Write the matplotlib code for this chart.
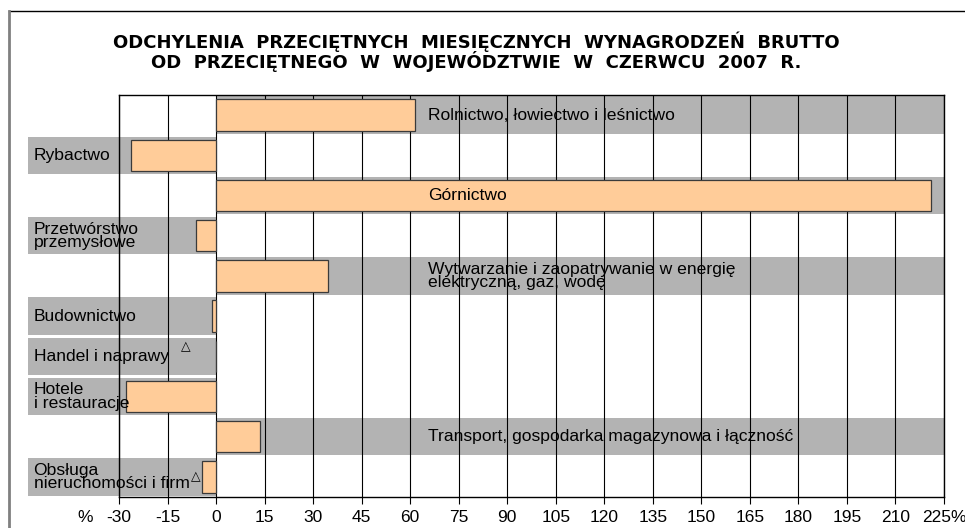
import numpy as np
import matplotlib
matplotlib.use('Agg')
import matplotlib.pyplot as plt
from matplotlib.lines import Line2D

plt.rcParams['font.family'] = ['Liberation Sans', 'DejaVu Sans']

# data (percent deviation from province average)
sectors = ['Rolnictwo, łowiectwo i leśnictwo', 'Rybactwo', 'Górnictwo',
           'Przetwórstwo\nprzemysłowe',
           'Wytwarzanie i zaopatrywanie w energię\nelektryczną, gaz, wodę',
           'Budownictwo', 'Handel i naprawy', 'Hotele\ni restauracje',
           'Transport, gospodarka magazynowa i łączność',
           'Obsługa\nnieruchomości i firm']
values = [61.6, -26.3, 221.0, -6.3, 34.5, -1.3, 0.0, -27.7, 13.5, -4.4]
ticks = list(range(-30, 226, 15))
tick_labels = [str(t) for t in ticks[:-1]] + ['225%']

title = ('ODCHYLENIA  PRZECIĘTNYCH  MIESIĘCZNYCH  WYNAGRODZEŃ  BRUTTO\n'
         'OD  PRZECIĘTNEGO  W  WOJEWÓDZTWIE  W  CZERWCU  2007  R.')

band_col = '#b3b3b3'
bar_col = '#ffcc99'

fig = plt.figure(figsize=(9.65, 5.28), dpi=100)
ax = fig.add_axes([119/965, 1-497/528, (944-119)/965, (497-95)/528])

xmin, xmax = -30, 225
lab_left = -58.2   # where the grey label band starts on the left
lab_pos = 65.5     # where the label for positive bars starts

y = np.arange(len(sectors))

# grey label bands
for i, (s, v) in enumerate(zip(sectors, values)):
    if v > 0:
        b = ax.barh(i, xmax, left=0, height=0.93, color=band_col, zorder=1)
        ax.text(lab_pos, i, s, ha='left', va='center', fontsize=12.6,
                linespacing=0.86, zorder=6)
    else:
        b = ax.barh(i, -lab_left, left=lab_left, height=0.93, color=band_col,
                    zorder=1)
        ax.text(lab_left + 1.8, i, s, ha='left', va='center', fontsize=12.6,
                linespacing=0.86, zorder=6)
    for p in b:
        p.set_clip_on(False)

# little triangles next to two labels
ax.text(-9.5, 5.76, '△', ha='center', va='center', fontsize=9,
        family=['DejaVu Sans'], zorder=6)
ax.text(-6.3, 9.0, '△', ha='center', va='center', fontsize=9,
        family=['DejaVu Sans'], zorder=6)

# vertical grid lines over the bands, under the bars
ax.vlines(ticks, -0.5, len(sectors) - 0.5, colors='black', lw=0.8, zorder=4)

ax.barh(y, values, height=0.78, color=bar_col, edgecolor='#3a3a3a',
        linewidth=0.9, zorder=5)

ax.set_xlim(xmin, xmax)
ax.set_ylim(len(sectors) - 0.5, -0.5)
ax.set_yticks([])
ax.set_xticks(ticks)
ax.set_xticklabels(tick_labels, fontsize=12.5)
ax.tick_params(axis='x', length=5, width=0.8, pad=4)
for sp in ax.spines.values():
    sp.set_linewidth(1.0)
    sp.set_zorder(7)

ax.annotate('%', xy=(-40.6, 0), xycoords=ax.get_xaxis_transform(),
            xytext=(0, -9), textcoords='offset points', ha='center',
            va='top', fontsize=12.5)

fig.text(476/965, 1-51.5/528, title, ha='center', va='center', fontsize=13,
         fontweight='bold', family=['DejaVu Sans'], linespacing=0.97)

# outer frame (top and left edges visible)
fig.add_artist(Line2D([9/965, 1], [1-11/528, 1-11/528], color='black',
                      lw=1.0, transform=fig.transFigure))
fig.add_artist(Line2D([9/965, 9/965], [0, 1-11/528], color='#808080',
                      lw=2.0, transform=fig.transFigure))

fig.savefig('out.png', dpi=100)
